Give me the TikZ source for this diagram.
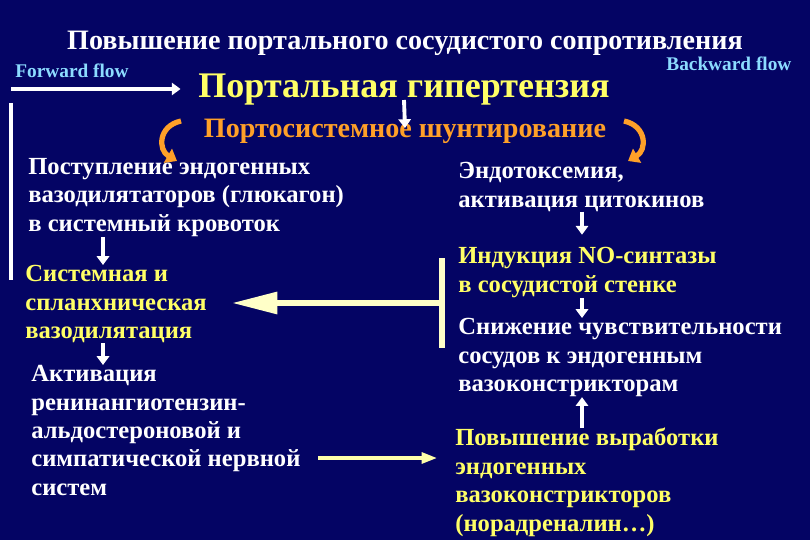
\documentclass[tikz,border=0pt]{standalone}
\usepackage{fontspec}
\setmainfont{Liberation Serif}
\usetikzlibrary{arrows.meta,positioning}
\definecolor{slidebg}{RGB}{4,4,100}
\definecolor{syellow}{RGB}{255,255,102}
\definecolor{sorange}{RGB}{255,160,40}
\definecolor{scyan}{RGB}{140,220,255}
\definecolor{scream}{RGB}{255,255,200}
\definecolor{sarrow}{RGB}{255,255,170}

\begin{document}
\begin{tikzpicture}[x=0.02cm, y=-0.02cm,
    txt/.style={anchor=north west, inner sep=0pt, align=left, text=white,
                font=\bfseries\fontsize{14}{16.2}\selectfont},
    hl/.style={txt, text=syellow},
    flow/.style={anchor=base west, inner sep=0pt, text=scyan,
                 font=\bfseries\fontsize{11}{13}\selectfont},
    arr/.style={draw=white, line width=2.2pt, -{Triangle[length=5pt,width=7pt]}},
    bar/.style={draw=white, line width=2.2pt},
    bigarr/.style={draw=scream, line width=3.4pt, -{Triangle[length=26pt,width=12pt]}},
    yarr/.style={draw=sarrow, line width=2.8pt, -{Triangle[length=9pt,width=6pt]}},
    curl/.style={draw=sorange, line width=3pt, -{Triangle[length=6pt,width=9pt]}}
]

% Background
\fill[slidebg] (0,0) rectangle (810,540);
\useasboundingbox (0,0) rectangle (810,540);

% Header
\node[anchor=base, inner sep=0pt, text=white, font=\bfseries\fontsize{16}{19}\selectfont]
    (title) at (405,50) {Повышение портального сосудистого сопротивления};
\node[flow] (fwd) at (15,78) {Forward flow};
\node[flow] (bwd) at (666,71) {Backward flow};
\node[anchor=base, inner sep=0pt, text=syellow, font=\bfseries\fontsize{20.5}{24}\selectfont]
    (portal) at (404,98) {Портальная гипертензия};
\node[anchor=base, inner sep=0pt, text=sorange, font=\bfseries\fontsize{16}{19}\selectfont]
    (shunt) at (405,138) {Портосистемное шунтирование};

% Left column
\node[txt] (b1) at (28,158) {Поступление эндогенных\\вазодилятаторов (глюкагон)\\в системный кровоток};
\node[hl]  (b2) at (25,265) {Системная и\\спланхническая\\вазодилятация};
\node[txt] (b3) at (31,365) {Активация\\ренинангиотензин-\\альдостероновой и\\симпатической нервной\\систем};

% Right column
\node[txt] (r1) at (458,162) {Эндотоксемия,\\активация цитокинов};
\node[hl]  (r2) at (458,247) {Индукция NO-синтазы\\в сосудистой стенке};
\node[txt] (r3) at (458,318) {Снижение чувствительности\\сосудов к эндогенным\\вазоконстрикторам};
\node[hl]  (r4) at (455,428) {Повышение выработки\\эндогенных\\вазоконстрикторов\\(норадреналин…)};

% Helper coordinates
\coordinate (colL) at (103,0);
\coordinate (colR) at (582,0);
\coordinate (fwdstart) at (11,89);
\coordinate (fwdtop) at (11,103);
\coordinate (fwdbot) at (11,280);
\coordinate (brtop) at (442,258);
\coordinate (brbot) at (442,348);
\coordinate (brmid) at (442,303);
\coordinate (row4) at (0,458);
\coordinate (curlL) at (181,121);
\coordinate (curlLend) at (177,161);
\coordinate (curlR) at (624,121);
\coordinate (curlRend) at (628,161);

% Arrows
\draw[arr, shorten >=10pt] (fwdstart) -- (portal.west |- fwdstart);
\draw[bar] (fwdtop) -- (fwdbot);
\draw[arr] (portal.base) ++(0,2) -- ([yshift=-5pt]shunt.north);
\draw[arr] (b1.south -| colL) -- (b2.north -| colL);
\draw[arr] (b2.south -| colL) -- (b3.north -| colL);
\draw[arr] (r1.south -| colR) -- ([yshift=7pt]r2.north -| colR);
\draw[arr] (r2.south -| colR) -- (r3.north -| colR);
\draw[arr] (r4.north -| colR) -- (r3.south -| colR);
\draw[bar, draw=scream, line width=3.4pt] (brtop) -- (brbot);
\draw[bigarr, shorten >=14pt] (brmid) -- (b2.east |- brmid);
\draw[yarr, shorten <=10pt, shorten >=10pt] (b3.east |- row4) -- (r4.west |- row4);
\draw[curl] (curlL) .. controls (158,126) and (158,150) .. (curlLend);
\draw[curl] (curlR) .. controls (647,126) and (647,150) .. (curlRend);

\end{tikzpicture}
\end{document}
